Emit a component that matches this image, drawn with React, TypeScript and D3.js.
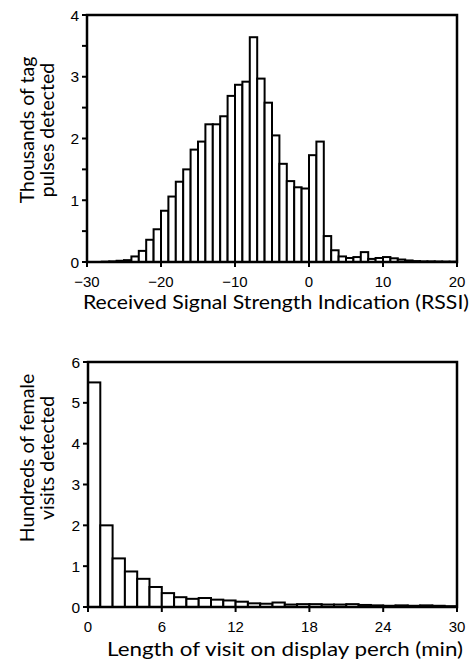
import React from "react";
import * as d3 from "d3";

// Top histogram: RSSI bins of width 1, left edges
const rssiStart = -28;
const rssiCounts = [
  0.005, 0.01, 0.02, 0.03, 0.09, 0.18, 0.36, 0.53, 0.83, 1.06, 1.3, 1.5, 1.82, 1.95,
  2.23, 2.23, 2.36, 2.69, 2.87, 2.92, 3.64, 2.97, 2.58, 2.05, 1.59, 1.31, 1.21, 1.19,
  1.73, 1.95, 0.42, 0.19, 0.09, 0.065, 0.08, 0.16, 0.05, 0.065, 0.08, 0.06, 0.04,
  0.025, 0.015, 0.01, 0.01, 0.008, 0.006, 0.005,
];
const rssiTicks = [-30, -20, -10, 0, 10, 20];
const rssiYTicks = [0, 1, 2, 3, 4];
const rssiYMinor = [0.5, 1.5, 2.5, 3.5];

// Bottom histogram: visit length bins of 1 min
const visitStart = 0;
const visitCounts = [
  5.5, 2.0, 1.19, 0.87, 0.69, 0.49, 0.34, 0.24, 0.2, 0.22, 0.18, 0.16, 0.13, 0.09,
  0.08, 0.11, 0.06, 0.07, 0.07, 0.06, 0.06, 0.07, 0.05, 0.04, 0.03, 0.04, 0.03, 0.04,
  0.03, 0.02,
];
const visitTicks = [0, 6, 12, 18, 24, 30];
const visitYTicks = [0, 1, 2, 3, 4, 5, 6];

const tickFont = "'Liberation Sans', Arial, sans-serif";
const titleFont = "Lato, 'Open Sans', sans-serif";

type PanelProps = {
  counts: number[];
  start: number;
  xDomain: [number, number];
  yDomain: [number, number];
  xTicks: number[];
  yTicks: number[];
  yMinor: number[];
  left: number;
  right: number;
  top: number;
  bottom: number;
  xTitle: string;
  xTitleX: number;
  xTitleY: number;
  xTitleLen: number;
  yTitle: string[];
  yTitleCenter: number;
};

function fmt(v: number) {
  return v < 0 ? "\u2212" + Math.abs(v) : String(v);
}

function Panel(p: PanelProps) {
  const x = d3.scaleLinear().domain(p.xDomain).range([p.left, p.right]);
  const y = d3.scaleLinear().domain(p.yDomain).range([p.bottom, p.top]);
  const sw = 2.5;
  return (
    <g>
      {p.counts.map((c, i) => {
        const x0 = x(p.start + i);
        const x1 = x(p.start + i + 1);
        const yt = y(c);
        return (
          <rect
            key={i}
            x={x0}
            y={yt}
            width={x1 - x0}
            height={Math.max(0, p.bottom - yt)}
            fill="#fff"
            stroke="#000"
            strokeWidth={2}
          />
        );
      })}
      <path
        d={`M${p.left},${p.bottom}V${p.top}H${p.right}V${p.bottom}Z`}
        fill="none"
        stroke="#000"
        strokeWidth={sw}
      />
      {p.yTicks.map((t) => (
        <g key={"y" + t}>
          <line x1={p.left - 5} x2={p.left} y1={y(t)} y2={y(t)} stroke="#000" strokeWidth={2} />
          <text
            x={p.left - 8}
            y={y(t)}
            dy="0.36em"
            textAnchor="end"
            fontFamily={tickFont}
            fontSize={15.5}
          >
            {fmt(t)}
          </text>
        </g>
      ))}
      {p.yMinor.map((t) => (
        <line key={"m" + t} x1={p.left - 5} x2={p.left} y1={y(t)} y2={y(t)} stroke="#000" strokeWidth={2} />
      ))}
      {p.xTicks.map((t) => (
        <g key={"x" + t}>
          <line x1={x(t)} x2={x(t)} y1={p.bottom} y2={p.bottom + 5} stroke="#000" strokeWidth={2} />
          <text
            x={x(t)}
            y={p.bottom + 25}
            textAnchor="middle"
            fontFamily={tickFont}
            fontSize={15}
          >
            {fmt(t)}
          </text>
        </g>
      ))}
      <text
        x={p.xTitleX}
        y={p.xTitleY}
        textAnchor="middle"
        fontFamily={titleFont}
        fontSize={19}
        textLength={p.xTitleLen}
        lengthAdjust="spacingAndGlyphs"
      >
        {p.xTitle}
      </text>
      {p.yTitle.map((line, i) => (
        <text
          key={i}
          transform={`translate(${34 + i * 20},${p.yTitleCenter}) rotate(-90)`}
          textAnchor="middle"
          fontFamily={titleFont}
          fontSize={19.5}
        >
          {line}
        </text>
      ))}
    </g>
  );
}

export default function App() {
  return (
    <svg
      width={472}
      height={663}
      style={{ position: "absolute", left: 0, top: 0, background: "#fff" }}
    >
      <Panel
        counts={rssiCounts}
        start={rssiStart}
        xDomain={[-30, 20]}
        yDomain={[0, 4]}
        xTicks={rssiTicks}
        yTicks={rssiYTicks}
        yMinor={rssiYMinor}
        left={87}
        right={457}
        top={15}
        bottom={262}
        xTitle="Received Signal Strength Indication (RSSI)"
        xTitleX={276}
        xTitleY={309}
        xTitleLen={386}
        yTitle={["Thousands of tag", "pulses detected"]}
        yTitleCenter={130}
      />
      <Panel
        counts={visitCounts}
        start={visitStart}
        xDomain={[0, 30]}
        yDomain={[0, 6]}
        xTicks={visitTicks}
        yTicks={visitYTicks}
        yMinor={[]}
        left={88}
        right={457}
        top={362}
        bottom={607}
        xTitle="Length of visit on display perch (min)"
        xTitleX={285}
        xTitleY={656}
        xTitleLen={356}
        yTitle={["Hundreds of female", "visits detected"]}
        yTitleCenter={458}
      />
    </svg>
  );
}
